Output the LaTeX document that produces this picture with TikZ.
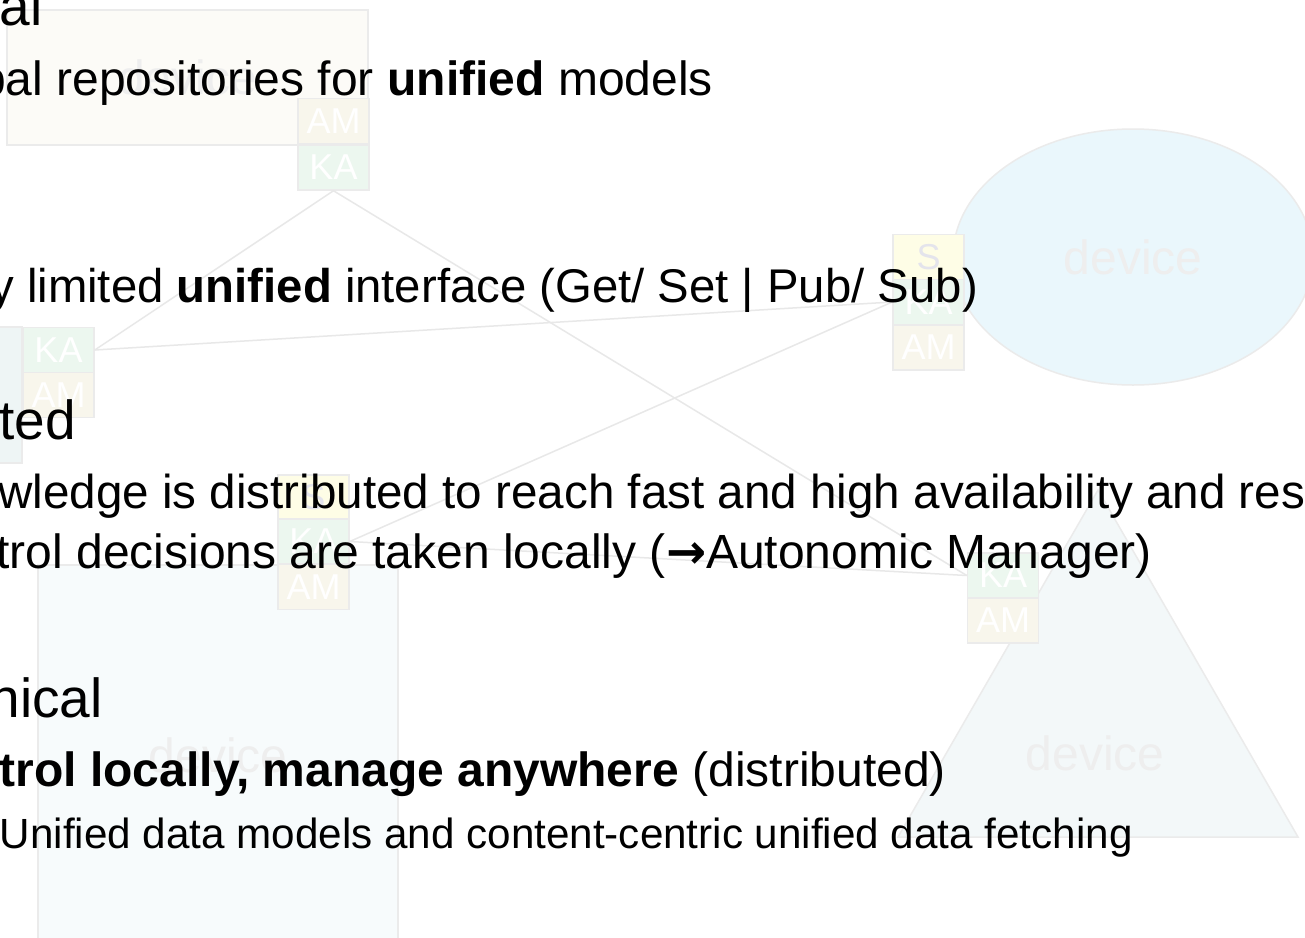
\documentclass[tikz,border=0pt]{standalone}
\usepackage{fontspec}
\setmainfont{Liberation Sans}
\newfontfamily\symfont{DejaVu Sans}
\usetikzlibrary{shapes.geometric}
\definecolor{edgegray}{HTML}{E8E8E8}
\definecolor{boxborder}{HTML}{EBEBEB}
\definecolor{amfill}{HTML}{F8F6EC}
\definecolor{kafill}{HTML}{ECF7EF}
\definecolor{sfill}{HTML}{FEFDE6}
\definecolor{devtext}{HTML}{EEEEEE}
\definecolor{topfill}{HTML}{FCFBF7}
\definecolor{ellfill}{HTML}{EAF7FC}
\definecolor{trifill}{HTML}{F3F8F9}
\definecolor{rectfill}{HTML}{F7FBFC}
\definecolor{leftfill}{HTML}{EEF5F5}
\definecolor{stext}{HTML}{E4E4EC}
\tikzset{
  tagbox/.style={draw=boxborder, line width=1.5pt, minimum width=71pt, minimum height=45pt, inner sep=0pt, font=\fontsize{36}{36}\selectfont, text=white},
  amtag/.style={tagbox, fill=amfill},
  katag/.style={tagbox, fill=kafill},
  stag/.style={tagbox, fill=sfill, text=stext},
  link/.style={draw=edgegray, line width=1.5pt},
  devshape/.style={draw=boxborder, line width=1.5pt, inner sep=0pt, text=devtext, font=\fontsize{48}{48}\selectfont},
  lvlone/.style={anchor=base east, inner sep=0pt, font=\fontsize{55}{60}\selectfont},
  lvltwo/.style={anchor=base east, inner sep=0pt, font=\fontsize{48}{55}\selectfont},
  lvlthree/.style={anchor=base east, inner sep=0pt, font=\fontsize{42.2}{48}\selectfont}
}
\begin{document}
\begin{tikzpicture}[x=1pt,y=-1pt]
\useasboundingbox (0,0) rectangle (1305,937);
\clip (0,0) rectangle (1305,937);
\fill[white] (0,0) rectangle (1305,937);
% big device shapes
\node[devshape, fill=topfill, minimum width=361pt, minimum height=135pt] (devA) at (187.5,77.5) {device};
\node[devshape, fill=leftfill, minimum width=124pt, minimum height=136pt] (devB) at (-40,395) {};
\node[devshape, fill=rectfill, minimum width=360pt, minimum height=380pt] (devC) at (218,755) {device};
\node[devshape, ellipse, fill=ellfill, minimum width=360pt, minimum height=256pt] (devD) at (1133,257) {device};
\coordinate (triL) at (898,837);
\coordinate (triR) at (1298,837);
\coordinate (triT) at (1098,490);
\filldraw[draw=boxborder, fill=trifill, line width=1.5pt] (triL) -- (triR) -- (triT) -- cycle;
\node[text=devtext, font=\fontsize{48}{48}\selectfont] (devE) at (1095,753) {device};
% tag boxes
\node[amtag] (topAM) at (333.5,121) {AM};
\node[katag] (topKA) at (333.5,167.5) {KA};
\node[katag] (leftKA) at (58.5,350) {KA};
\node[amtag] (leftAM) at (58.5,395) {AM};
\node[stag] (midS) at (313.5,497.5) {S};
\node[katag] (midKA) at (313.5,541.5) {KA};
\node[amtag] (midAM) at (313.5,587) {AM};
\node[stag] (rightS) at (928.5,257) {S};
\node[katag] (rightKA) at (928.5,302) {KA};
\node[amtag] (rightAM) at (928.5,347.5) {AM};
\node[katag] (triKA) at (1003,575.5) {KA};
\node[amtag] (triAM) at (1003,620.5) {AM};
% connectors
\draw[link] (topKA.south) -- (leftKA.east);
\draw[link] (topKA.south) -- (triKA.west);
\draw[link] (leftKA.east) -- (rightKA.west);
\draw[link] (rightKA.west) -- (midKA.east);
\draw[link] (midKA.east) -- (triKA.west);
% slide text
\node[lvlone] (t1) at (43,25) {sal};
\node[lvltwo] (t2) at (713,95) {bal repositories for \textbf{unified} models};
\node[lvltwo, font=\fontsize{47.3}{55}\selectfont] (t3) at (978,302) {y limited \textbf{unified} interface (Get/ Set | Pub/ Sub)};
\node[lvlone] (t4) at (76,439) {ted};
\node[lvltwo, anchor=base west, font=\fontsize{47.6}{55}\selectfont] (t5) at (-2,508) {wledge is distributed to reach fast and high availability and res};
\node[lvltwo] (t6) at (1152,568) {trol decisions are taken locally ({\symfont\bfseries →}Autonomic Manager)};
\node[lvlone] (t7) at (103,717) {hical};
\node[lvltwo] (t8) at (946,786) {\textbf{trol locally, manage anywhere} (distributed)};
\node[lvlthree] (t9) at (1133,848) {Unified data models and content-centric unified data fetching};
\end{tikzpicture}
\end{document}
